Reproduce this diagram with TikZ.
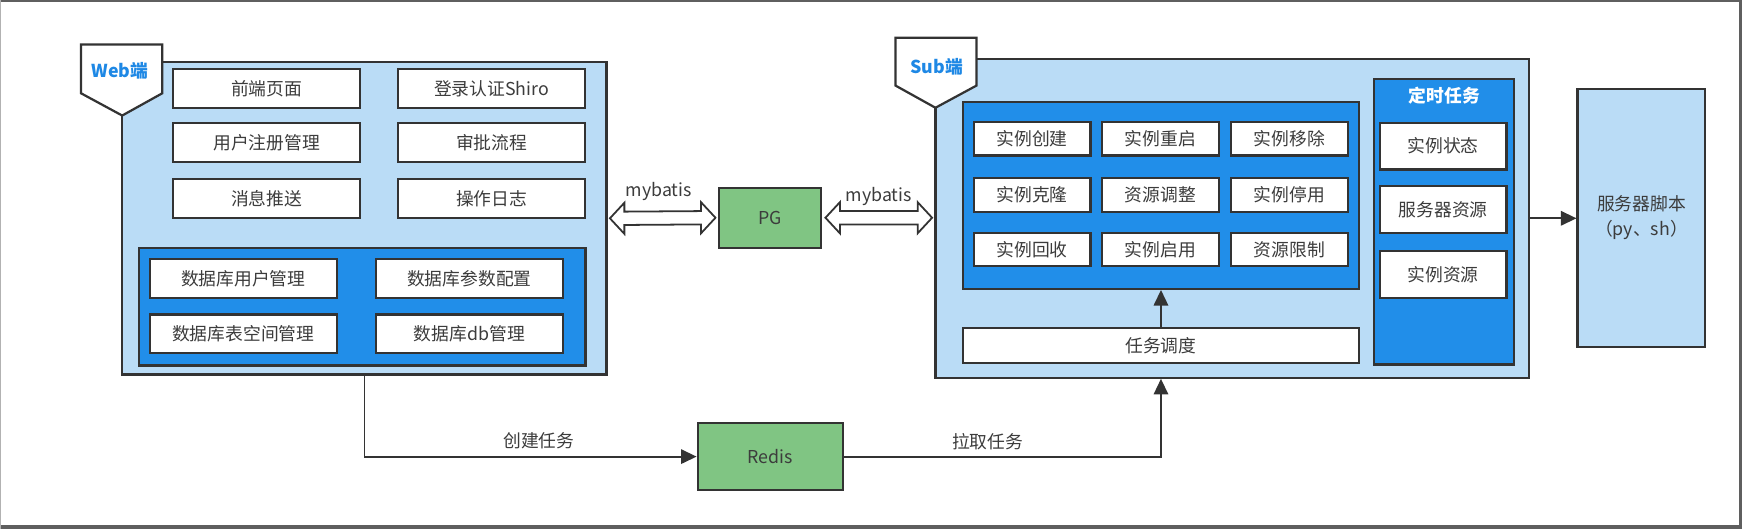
\documentclass[tikz,border=0pt]{standalone}
\usepackage{fontspec}
\setmainfont{Noto Sans CJK SC}
\usetikzlibrary{arrows.meta,calc}
\definecolor{lb}{RGB}{186,220,246}
\definecolor{db}{RGB}{33,142,233}
\definecolor{gn}{RGB}{128,197,131}
\definecolor{bd}{RGB}{51,51,51}
\definecolor{tx}{RGB}{60,60,60}
\definecolor{tagblue}{RGB}{30,136,229}
\definecolor{frm}{RGB}{95,95,95}
\begin{document}
\begin{tikzpicture}[x=1pt,y=-1pt,
  bx/.style={draw=bd, line width=2pt, inner sep=0pt, text=tx, font=\fontsize{16}{19}\selectfont},
  wb/.style={bx, fill=white},
  lbx/.style={bx, fill=lb},
  dbx/.style={bx, fill=db},
  gbx/.style={bx, fill=gn},
  tag/.style={draw=bd, line width=2pt, fill=white, line join=miter},
  tagtxt/.style={text=tagblue, font=\fontsize{16}{19}\selectfont\bfseries},
  lbl/.style={text=tx, font=\fontsize{16}{19}\selectfont, inner sep=0pt},
  arr/.style={draw=bd, line width=1.6pt, -{Triangle[length=14pt,width=13pt]}},
  hollow/.style={draw=bd, line width=1.6pt, fill=white, line join=miter}]
\useasboundingbox (0,0) rectangle (1568,476);
\fill[white] (0,0) rectangle (1568,476);
% screen frame
\fill[frm] (0,0) rectangle (1568,2);
\fill[frm] (0,472.4) rectangle (1568,476);
\fill[frm] (1565.3,0) rectangle (1568,476);
\fill[black!30] (0,0) rectangle (1,476);

% ---------------- Web side ----------------
\node[lbx, minimum width=436pt, minimum height=281pt] (web) at (328,196.5) {};
\draw[tag] (73,40) -- (146,40) -- (146,84) -- (110,104) -- (73,84) -- cycle;
\node[tagtxt] (webtag) at (108,64) {Web端};
\begin{scope}[every node/.append style={wb, minimum width=168pt, minimum height=35pt}]
  \node (w1) at (240,79.5) {前端页面};
  \node (w2) at (442.5,79.5) {登录认证Shiro};
  \node (w3) at (240,128.5) {用户注册管理};
  \node (w4) at (442.5,128.5) {审批流程};
  \node (w5) at (240,178.5) {消息推送};
  \node (w6) at (442.5,178.5) {操作日志};
\end{scope}
\node[dbx, minimum width=402pt, minimum height=106pt] (webdb) at (326,276) {};
\begin{scope}[every node/.append style={wb, minimum width=168pt, minimum height=35pt}]
  \node (d1) at (219,250.5) {数据库用户管理};
  \node (d2) at (422.5,250.5) {数据库参数配置};
  \node (d3) at (219,300.5) {数据库表空间管理};
  \node (d4) at (422.5,300.5) {数据库db管理};
\end{scope}

% ---------------- PG / Redis ----------------
\node[gbx, minimum width=92pt, minimum height=54pt] (pg) at (693,196) {PG};
\node[gbx, minimum width=131pt, minimum height=60pt] (redis) at (693.5,411) {Redis};

% ---------------- Sub side ----------------
\node[lbx, minimum width=534pt, minimum height=287pt] (sub) at (1109,196.5) {};
\draw[tag] (806,34) -- (879,34) -- (879,77) -- (842,97) -- (806,77) -- cycle;
\node[tagtxt] (subtag) at (843,60) {Sub端};
\node[dbx, minimum width=356pt, minimum height=168pt] (inner) at (1045,176) {};
\begin{scope}[every node/.append style={wb, minimum width=105pt, minimum height=30pt}]
  \node (s1) at (929,125) {实例创建};
  \node (s2) at (1044.5,125) {实例重启};
  \node (s3) at (1160.5,125) {实例移除};
  \node (s4) at (929,175.5) {实例克隆};
  \node (s5) at (1044.5,175.5) {资源调整};
  \node (s6) at (1160.5,175.5) {实例停用};
  \node (s7) at (929,224.5) {实例回收};
  \node (s8) at (1044.5,224.5) {实例启用};
  \node (s9) at (1160.5,224.5) {资源限制};
\end{scope}
\node[wb, minimum width=356pt, minimum height=32pt] (tsk) at (1045,311) {任务调度};
\node[dbx, minimum width=126pt, minimum height=257pt] (timer) at (1300,199.5) {};
\node[text=white, font=\fontsize{16}{19}\selectfont\bfseries, inner sep=0pt] (timertitle) at (1300,86) {定时任务};
\begin{scope}[every node/.append style={wb, minimum width=114pt, minimum height=42pt}]
  \node (t1) at (1299,131.5) {实例状态};
  \node (t2) at (1299,188.5) {服务器资源};
  \node (t3) at (1299,247) {实例资源};
\end{scope}
\node[lbx, minimum width=115pt, minimum height=232pt, align=center,
      font=\fontsize{16}{23}\selectfont] (script) at (1477.5,196) {服务器脚本\\（py、sh）};

% ---------------- connectors ----------------
% mybatis double arrows
\coordinate (m1a) at ([xshift=2pt]web.east);
\coordinate (m1b) at ([xshift=-2pt]pg.west);
\draw[hollow] (m1a) -- ++(13,-14) -- ++(0,8) -- ($(m1b)+(-13,-6)$) -- ++(0,-8) -- (m1b)
  -- ++(-13,14) -- ++(0,-8) -- ($(m1a)+(13,6)$) -- ++(0,8) -- cycle;
\coordinate (m2a) at ([xshift=3pt]pg.east);
\coordinate (m2b) at ([xshift=-2pt]sub.west |- pg.east);
\draw[hollow] (m2a) -- ++(13,-14) -- ++(0,8) -- ($(m2b)+(-13,-6)$) -- ++(0,-8) -- (m2b)
  -- ++(-13,14) -- ++(0,-8) -- ($(m2a)+(13,6)$) -- ++(0,8) -- cycle;
\node[lbl] (mb1) at (593,172.5) {mybatis};
\node[lbl] (mb2) at (791,177) {mybatis};

\draw[arr] (web.south) -- (web.south |- redis.west) -- (redis.west);
\node[lbl] (l1) at (485,397) {创建任务};
\draw[arr] (redis.east) -- (redis.east -| tsk.south) -- (tsk.south |- sub.south);
\node[lbl] (l2) at (889,398) {拉取任务};
\draw[arr] (tsk.north) -- (inner.south);
\draw[arr] (sub.east) -- (sub.east -| script.west);
\end{tikzpicture}
\end{document}
